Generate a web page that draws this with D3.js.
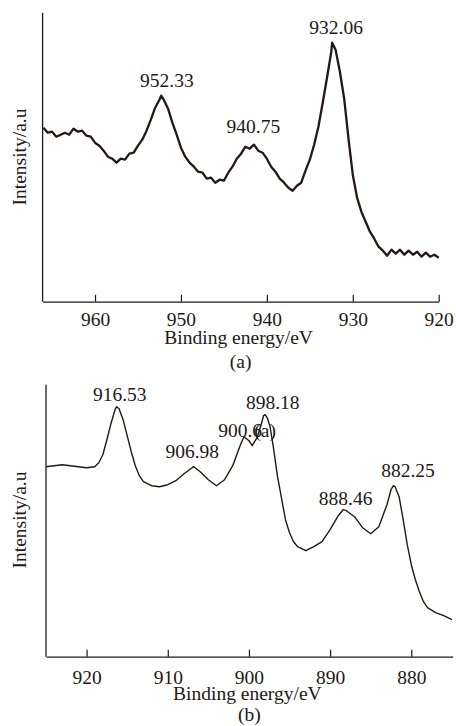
<!DOCTYPE html>
<html>
<head>
<meta charset="utf-8">
<script src="https://cdn.jsdelivr.net/npm/d3@7"></script>
<style>
	html, body { margin: 0; padding: 0; background: #fff; }
	svg { display: block; font-family: "Liberation Serif", "Times New Roman", serif; }
</style>
</head>
<body>
<svg id="chart" width="456" height="726"></svg>
<script>
// (a) spectrum, binding energy (eV) and intensity (a.u.)
const energyA = [966, 965.5, 965, 964.5, 964, 963.5, 963, 962.5, 962, 961.5, 961, 960.5, 960, 959.5, 959, 958.5, 958, 957.5, 957, 956.5, 956, 955.5, 955, 954.5, 954, 953.5, 953, 952.5, 952.3, 952, 951.5, 951, 950.5, 950, 949.5, 949, 948.5, 948, 947.5, 947, 946.5, 946, 945.5, 945, 944.5, 944, 943.5, 943, 942.5, 942, 941.5, 941, 940.5, 940, 939.5, 939, 938.5, 938, 937.5, 937, 936.5, 936, 935.5, 935, 934.5, 934, 933.5, 933, 932.5, 932.4, 932, 931.5, 931, 930.5, 930, 929.5, 929, 928.5, 928, 927.5, 927, 926.5, 926, 925.5, 925, 924.5, 924, 923.5, 923, 922.5, 922, 921.5, 921, 920.5, 920];
const intensityA = [174, 169, 170, 165, 167, 169, 167, 173, 170, 171, 166, 165, 159, 156, 151, 145, 143, 139, 143, 142, 148, 149, 156, 162, 171, 182, 194, 202, 206, 202, 193, 179, 167, 154, 145, 139, 135, 130, 129, 123, 124, 119, 122, 121, 129, 135, 143, 148, 155, 153, 157, 151, 149, 143, 135, 130, 123, 119, 114, 111, 116, 119, 131, 142, 157, 175, 199, 224, 250, 259, 252, 230, 203, 163, 127, 104, 90, 80, 70, 63, 55, 51, 46, 52, 48, 52, 47, 51, 47, 50, 45, 49, 45, 47, 44];
const ticksA = [960, 950, 940, 930, 920];
const peaksA = ["952.33", "940.75", "932.06"];

// (b) spectrum
const energyB = [925, 924, 923, 922, 921, 920, 919, 918.5, 918, 917.5, 917, 916.5, 916.3, 916, 915.5, 915, 914.5, 914, 913.5, 913, 912, 911, 910, 909, 908, 907, 906.8, 906, 905, 904, 903, 902, 901.5, 901, 900.6, 900, 899.6, 899, 898.5, 898.2, 898, 897.7, 897.4, 897, 896.5, 896, 895.5, 895, 894.5, 894, 893, 892, 891, 890, 889, 888.4, 888, 887, 886, 885, 884, 883, 882.5, 882.2, 882, 881.5, 881, 880.5, 880, 879.5, 879, 878.5, 878, 877, 876, 875.5, 875];
const intensityB = [190, 191, 192, 191, 190, 189, 190, 194, 202, 217, 233, 247, 250, 248, 237, 221, 205, 191, 181, 175, 171, 170, 172, 176, 183, 189, 190, 185, 177, 171, 177, 191, 202, 213, 220, 216, 211, 219, 232, 241, 242, 238, 230, 210, 181, 159, 137, 124, 115, 110, 106, 110, 115, 127, 141, 147, 146, 140, 129, 123, 130, 152, 167, 171, 170, 160, 137, 112, 92, 77, 65, 55, 49, 44, 41, 39, 37];
const ticksB = [920, 910, 900, 890, 880];
const peaksB = ["916.53", "906.98", "900.6", "898.18", "888.46", "882.25"];

const ink = "#231815";
const fontSize = 19.5;
const svg = d3.select("#chart");

function drawPanel(cfg) {
	const x = d3.scaleLinear().domain(cfg.xDomain).range(cfg.xRange);
	const y = d3.scaleLinear().domain(cfg.yDomain).range(cfg.yRange);
	const g = svg.append("g");

	const axis = d3.axisBottom(x)
	.tickValues(cfg.ticks)
	.tickSizeInner(-7)
	.tickSizeOuter(0)
	.tickPadding(cfg.tickPad)
	.tickFormat(d3.format("d"));

	const ax = g.append("g")
	.attr("transform", `translate(0,${cfg.yRange[0]})`)
	.call(axis);
	ax.select(".domain").attr("stroke", ink).attr("stroke-width", 1.3);
	ax.selectAll(".tick line").attr("stroke", ink).attr("stroke-width", 1.2);
	ax.selectAll(".tick text")
	.attr("fill", ink)
	.attr("font-size", fontSize)
	.attr("font-family", "Liberation Serif, serif");

	g.append("line")
	.attr("x1", cfg.xRange[0]).attr("x2", cfg.xRange[0])
	.attr("y1", cfg.yRange[0]).attr("y2", cfg.yRange[1])
	.attr("stroke", ink)
	.attr("stroke-width", 1.3);

	const line = d3.line()
	.x((d, i) => x(cfg.energy[i]))
	.y(d => y(d));

	g.append("path")
	.datum(cfg.intensity)
	.attr("fill", "none")
	.attr("stroke", ink)
	.attr("stroke-width", cfg.lineWidth)
	.attr("stroke-linejoin", "round")
	.attr("d", line);

	cfg.labels.forEach((t, i) => {
		const lay = cfg.layout[i];
		g.append("text")
		.attr("x", x(+t) + lay.dx)
		.attr("y", lay.y)
		.attr("text-anchor", "middle")
		.attr("font-size", fontSize)
		.attr("fill", ink)
		.text(t);
	});

	const cx = (cfg.xRange[0] + cfg.xRange[1]) / 2;
	g.append("text")
	.attr("x", cx - 2)
	.attr("y", cfg.titleY)
	.attr("text-anchor", "middle")
	.attr("font-size", fontSize)
	.attr("fill", ink)
	.text("Binding energy/eV");

	g.append("text")
	.attr("x", cx)
	.attr("y", cfg.tagY)
	.attr("text-anchor", "middle")
	.attr("font-size", fontSize)
	.attr("fill", ink)
	.text(cfg.tag);

	g.append("text")
	.attr("transform", `translate(26,${cfg.yLabelY}) rotate(-90)`)
	.attr("text-anchor", "middle")
	.attr("font-size", fontSize)
	.attr("fill", ink)
	.text("Intensity/a.u");

	return {x, y, g};
}

drawPanel({
	energy: energyA,
	intensity: intensityA,
	ticks: ticksA,
	labels: peaksA,
	layout: [{dx: 6, y: 87}, {dx: -7, y: 133}, {dx: 1, y: 34}],
	xDomain: [966.1, 920],
	xRange: [42.6, 438.7],
	yDomain: [0, 289],
	yRange: [301.7, 12.7],
	tickPad: 10,
	lineWidth: 2.3,
	titleY: 344,
	tag: "(a)",
	tagY: 368,
	yLabelY: 157
});

const b = drawPanel({
	energy: energyB,
	intensity: intensityB,
	ticks: ticksB,
	labels: peaksB,
	layout: [{dx: 5, y: 401}, {dx: 0, y: 458}, {dx: -4, y: 437}, {dx: 9, y: 409}, {dx: 3, y: 505}, {dx: 15, y: 477}],
	xDomain: [925, 874.9],
	xRange: [46, 452.7],
	yDomain: [0, 272],
	yRange: [656.7, 384.7],
	tickPad: 13,
	lineWidth: 1.4,
	titleY: 700,
	tag: "(b)",
	tagY: 721,
	yLabelY: 520
});

// stray "(a)" that sits over the 900.6 label in the original figure
b.g.append("text")
.attr("x", b.x(898.0))
.attr("y", 437)
.attr("text-anchor", "middle")
.attr("font-size", fontSize)
.attr("fill", ink)
.text("(a)");
</script>
</body>
</html>
